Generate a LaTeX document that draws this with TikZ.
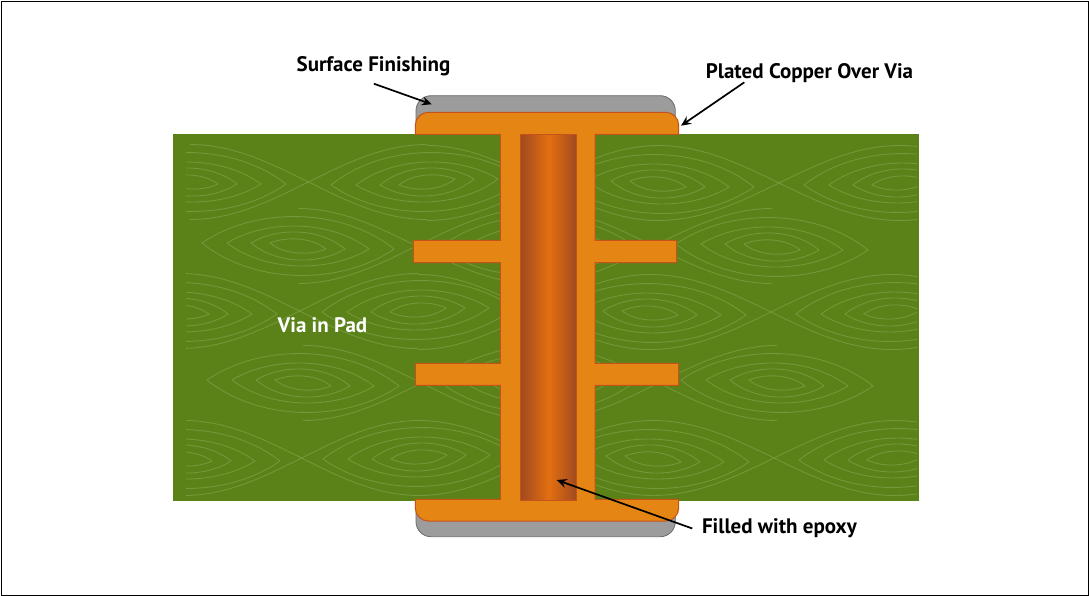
\documentclass[tikz,border=0pt]{standalone}
\usepackage{fontspec}
\setmainfont{PT Sans}
\usepackage{tikz}
\usetikzlibrary{arrows.meta}

\definecolor{boardgreen}{HTML}{5A8219}
\definecolor{grainline}{HTML}{76963A}
\definecolor{copperfill}{HTML}{E58514}
\definecolor{copperedge}{HTML}{C4521A}
\definecolor{copperdark}{HTML}{A04A20}
\definecolor{coppermid}{HTML}{E36F10}
\definecolor{finishgray}{HTML}{9C9C9C}
\definecolor{finishedge}{HTML}{6A6A6A}

\tikzset{
	grain/.style={grainline, line width=0.9pt},
	copper/.style={fill=copperfill, draw=copperedge, line width=1pt, line join=miter},
	finish/.style={fill=finishgray, draw=finishedge, line width=0.8pt},
	notetext/.style={font=\fontsize{21}{24}\selectfont\bfseries, inner sep=2pt, text depth=0.25ex},
	callout/.style={black, line width=1.7pt, -{Stealth[length=10pt,width=9pt,inset=3.5pt]}}
}

% one knot of the wood grain: nested lenses
\newcommand{\grainEye}[3]{
	\foreach \hw/\hh in {28/7,47/14,71/20,96/29.5}{
		\draw[grain] ({#1-\hw},{#2-(#3)}) .. controls ({#1-0.45*\hw},{#2-1.33*\hh}) and ({#1+0.45*\hw},{#2-1.33*\hh}) .. ({#1+\hw},{#2+(#3)})
		.. controls ({#1+0.45*\hw},{#2+1.33*\hh}) and ({#1-0.45*\hw},{#2+1.33*\hh}) .. cycle;
	}
}
% two grain lines crossing half way between two knots
\newcommand{\grainLink}[3]{
	\draw[grain] plot[domain=#1:#2, samples=40, variable=\x] (\x,{#3-37.5*cos((\x-#1)/(#2-#1)*180)});
	\draw[grain] plot[domain=#1:#2, samples=40, variable=\x] (\x,{#3+37.5*cos((\x-#1)/(#2-#1)*180)});
}

\begin{document}
\begin{tikzpicture}[x=1pt,y=-1pt]
	\useasboundingbox (0,0) rectangle (1089,596);
	
	% 1. frame and board
	\draw[black, line width=0.8pt] (1,1) rectangle (1088,595.5);
	\fill[boardgreen] (173,134.3) rectangle (918.5,501);
	
	% 2. wood grain, rows from top to bottom
	\begin{scope}
		\clip (186,134.3) rectangle (917,501);
		\foreach \cx/\cy/\sk in {190/182/2,427/182/-3,658/184/3,900/183/-2,
			298/246/3,535/246/-2,772/247/3,
			181/312/2,418/310/-2,650/313/2,892/312/-2,
			303/383/3,540/383/-2,777/383/3,
			184/459/2,419/457/-2,653/459/3,895/458/-2}{
			\grainEye{\cx}{\cy}{\sk}
		}
		\grainLink{190}{427}{182} \grainLink{427}{658}{183} \grainLink{658}{900}{183} \grainLink{900}{1137}{183}
		\grainLink{298}{535}{246} \grainLink{535}{772}{246}
		\grainLink{181}{418}{311} \grainLink{418}{650}{312} \grainLink{650}{892}{312} \grainLink{892}{1129}{312}
		\grainLink{303}{540}{383} \grainLink{540}{777}{383}
		\grainLink{184}{419}{458} \grainLink{419}{653}{458} \grainLink{653}{895}{458} \grainLink{895}{1132}{458}
	\end{scope}
	
	% 3. surface finishing, top and bottom
	\draw[finish, rounded corners=15pt] (416,130) -- (416,95.7) -- (675.3,95.7) -- (675.3,130);
	\draw[finish, rounded corners=15pt] (416,505) -- (416,536.7) -- (675.3,536.7) -- (675.3,505);
	
	% 4. plated copper, barrel and inner layers
	\draw[copper] (415.3,134.3) [rounded corners=13pt] -- (415.3,112.3) -- (678.7,112.3) [sharp corners] -- (678.7,134.3)
	-- (595,134.3) -- (595,240.3) -- (676.7,240.3) -- (676.7,262.7) -- (595,262.7)
	-- (595,363.3) -- (678.7,363.3) -- (678.7,385.3) -- (595,385.3)
	-- (595,499.3) -- (678.7,499.3) [rounded corners=13pt] -- (678.7,521) -- (415.3,521) [sharp corners] -- (415.3,499.3)
	-- (500.3,499.3) -- (500.3,385.3) -- (415.3,385.3) -- (415.3,363.3) -- (500.3,363.3)
	-- (500.3,262.7) -- (413.3,262.7) -- (413.3,240.3) -- (500.3,240.3) -- (500.3,134.3) -- cycle;
	
	% 5. epoxy fill
	\draw[draw=copperedge, line width=0.8pt, left color=copperdark, right color=copperdark, middle color=coppermid] (520.7,134.3) rectangle (576.7,500);
	
	% 6. texts
	\node[notetext] (surface) at (373.5,65) {Surface Finishing};
	\node[notetext] (plated) at (809.5,72) {Plated Copper Over Via};
	\node[notetext] (epoxy) at (779.5,527) {Filled with epoxy};
	\node[notetext, white] (pad) at (322.5,326) {Via in Pad};
	
	% 7. arrows
	\coordinate (surfacetip) at (431.7,104.3);
	\coordinate (platedtip) at (681,125.7);
	\coordinate (epoxytip) at (556.7,480);
	\draw[callout, shorten <=25pt] (surface.204) -- (surfacetip);
	\draw[callout] (plated.189) -- (platedtip);
	\draw[callout, shorten <=8pt] (epoxy.183) -- (epoxytip);
	
\end{tikzpicture}
\end{document}
